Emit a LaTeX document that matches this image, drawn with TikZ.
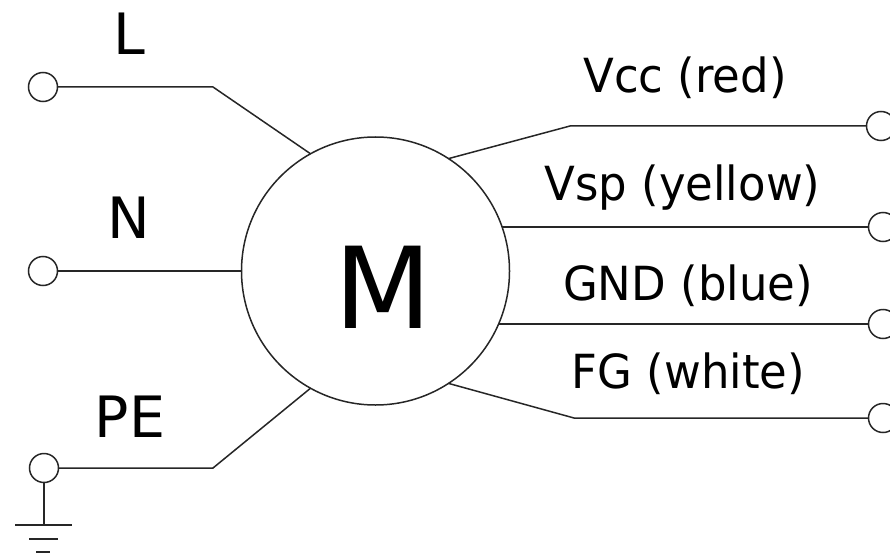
\documentclass[tikz,border=0pt]{standalone}
\usepackage{graphicx}
\usepackage{fontspec}
\setmainfont{DejaVu Sans}
\newcommand{\sigtext}[1]{\scalebox{.957}[1]{#1}}
\tikzset{
  wire/.style={draw=black!85, line width=1.5pt},
  term/.style={circle, draw=black!85, line width=1.5pt, minimum size=29pt, inner sep=0pt, outer sep=0pt},
  motor/.style={circle, draw=black!85, line width=1.5pt, minimum size=268pt, inner sep=0pt, outer sep=0pt},
  biglabel/.style={inner sep=0pt, anchor=base, font=\fontsize{57}{57}\selectfont},
  siglabel/.style={inner sep=0pt, anchor=base, font=\fontsize{47}{47}\selectfont}
}
\begin{document}
\begin{tikzpicture}[x=1pt,y=-1pt]
\useasboundingbox (0,0) rectangle (890,556);
\node[motor] (m) at (375.5,271) {};
\node[inner sep=0pt, anchor=base, font=\fontsize{113}{113}\selectfont] (mlabel) at (383,328) {M};
\node[term] (tl) at (43,87) {};
\node[term] (tn) at (43,271) {};
\node[term] (tp) at (44,468) {};
\node[term] (t1) at (881,126) {};
\node[term] (t2) at (883,227) {};
\node[term] (t3) at (883,324) {};
\node[term] (t4) at (883,418) {};
\coordinate (cl) at (213,87);
\coordinate (cp) at (213,468);
\coordinate (c1) at (570,126);
\coordinate (c4) at (574,418);
\coordinate (g1) at (44,525);
\draw[wire] (tl.east) -- (cl) -- (m.119);
\draw[wire] (tn.east) -- (m.west);
\draw[wire] (tp.east) -- (cp) -- (m.241);
\draw[wire] (m.57) -- (c1) -- (t1.west);
\draw[wire] (m.19 |- t2.west) -- (t2.west);
\draw[wire] (m.-23.5 |- t3.west) -- (t3.west);
\draw[wire] (m.-57.5) -- (c4) -- (t4.west);
\draw[wire] (tp.south) -- (g1);
\draw[wire] (15,525) -- (72,525);
\draw[wire] (29,539) -- (58,539);
\draw[wire] (36,552) -- (50,552);
\node[biglabel] (ll) at (129,55) {L};
\node[biglabel] (ln) at (128.5,238) {N};
\node[biglabel] (lp) at (130,437) {PE};
\node[siglabel] (s1) at (685,93) {\sigtext{Vcc (red)}};
\node[siglabel] (s2) at (682.5,200) {\sigtext{Vsp (yellow)}};
\node[siglabel] (s3) at (688,300) {\sigtext{GND (blue)}};
\node[siglabel] (s4) at (688.5,388) {\sigtext{FG (white)}};
\end{tikzpicture}
\end{document}
